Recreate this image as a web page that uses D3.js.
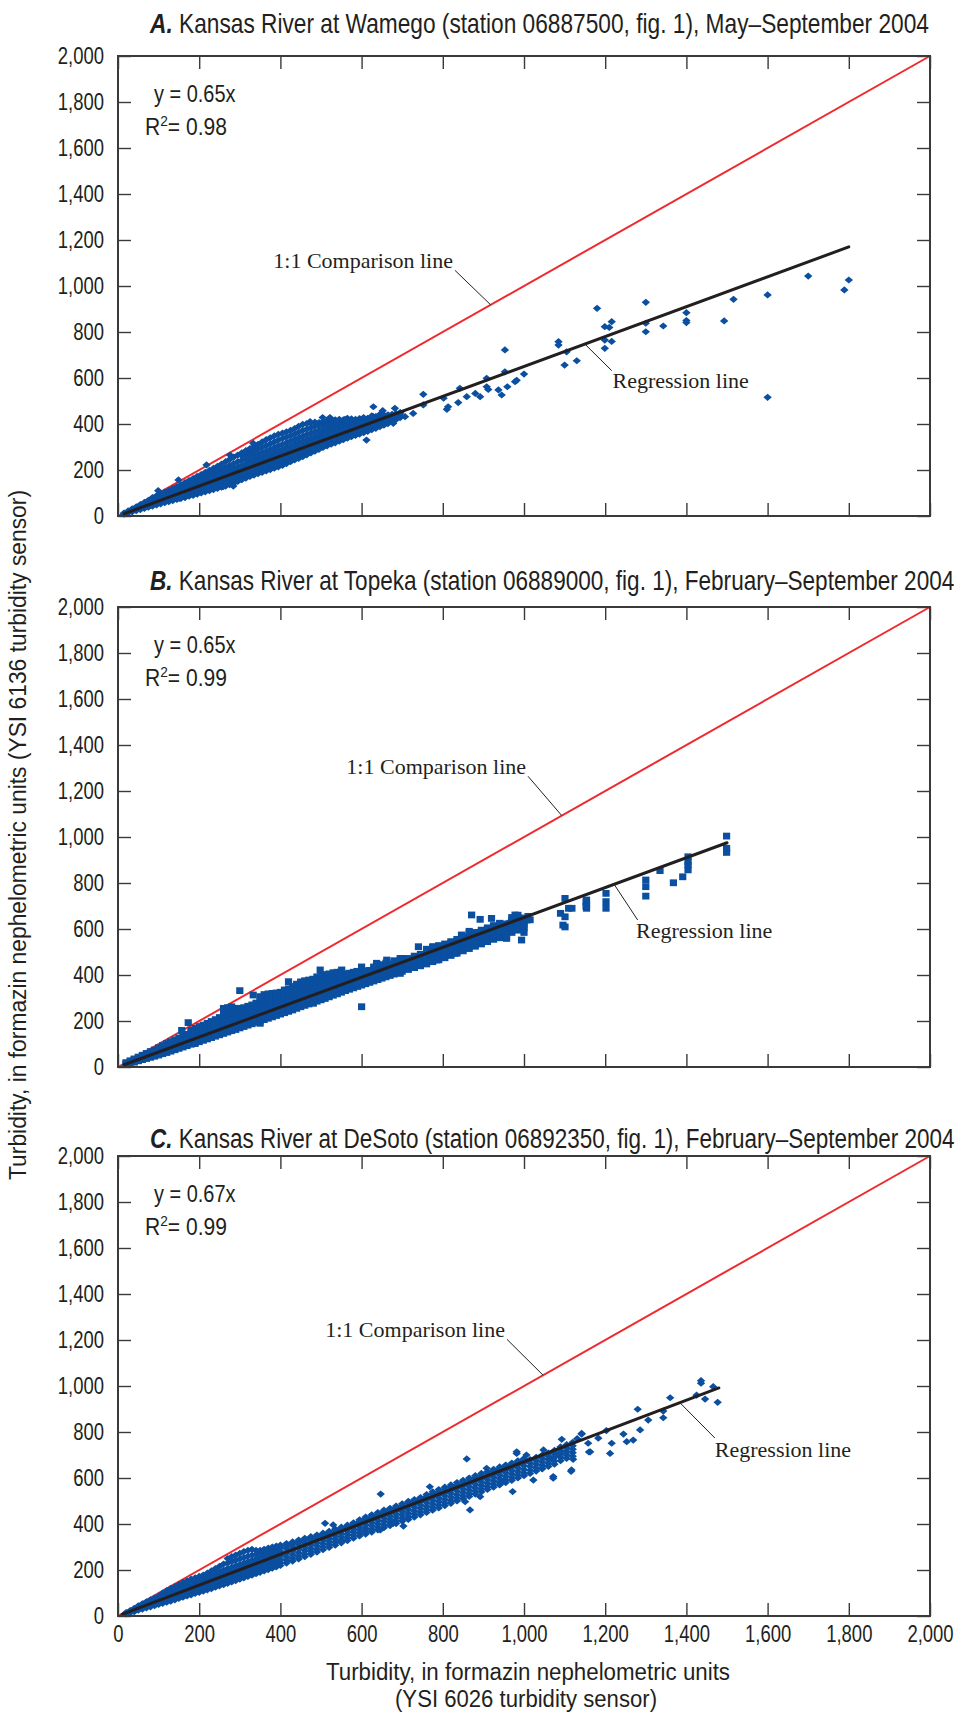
<!DOCTYPE html>
<html>
<head>
<meta charset="utf-8">
<script src="https://cdnjs.cloudflare.com/ajax/libs/d3/7.8.5/d3.min.js"></script>
<style>
  html, body { margin: 0; padding: 0; background: #fff; }
  svg { display: block; }
</style>
</head>
<body>
<svg id="chart" width="961" height="1713"></svg>
<script>
// ---------------------------------------------------------------------------
// Turbidity comparison, YSI 6136 vs YSI 6026 sensors, Kansas River sites 2004
// Dense parts of each cloud are stored as [x, [y, y, ...]] columns,
// isolated readings as plain [x, y] pairs (FNU).
// ---------------------------------------------------------------------------

const axisTicks = [0, 200, 400, 600, 800, 1000, 1200, 1400, 1600, 1800, 2000];

// A. Wamego, May-September 2004
const wamegoBand = [
  [15, [8, 11, 13]], [25, [13, 17, 22]], [35, [18, 22, 27, 31]], [45, [23, 28, 34, 40]],
  [55, [28, 34, 40, 46, 50]], [65, [33, 39, 46, 53, 59]], [75, [38, 45, 52, 60, 68]],
  [85, [43, 50, 58, 66, 74, 80]], [95, [48, 56, 64, 72, 80, 88]], [105, [53, 61, 70, 79, 88, 96]],
  [115, [58, 66, 76, 86, 95, 104]], [125, [62, 71, 81, 92, 102, 112]], [135, [67, 77, 87, 98, 109, 120]],
  [145, [72, 82, 93, 104, 116, 128]], [155, [76, 87, 98, 110, 123, 136]], [165, [80, 92, 104, 117, 130, 145]],
  [175, [86, 98, 110, 123, 137, 154]], [185, [90, 102, 115, 129, 144, 158, 163]],
  [195, [95, 107, 120, 134, 149, 162, 172]], [205, [100, 112, 125, 140, 155, 168, 180]],
  [215, [105, 117, 131, 146, 161, 176, 190]], [225, [110, 122, 136, 151, 167, 183, 198]],
  [235, [115, 128, 142, 157, 173, 190, 207]], [245, [120, 133, 147, 163, 180, 198, 216]],
  [255, [125, 138, 153, 169, 186, 205, 226]], [265, [130, 144, 159, 175, 192, 212, 236]],
  [275, [136, 150, 165, 181, 199, 220, 246]], [285, [142, 156, 171, 188, 206, 228, 256]],
  [295, [150, 163, 178, 195, 213, 236, 265]], [305, [158, 170, 185, 202, 220, 242, 262, 275]],
  [315, [165, 177, 192, 209, 227, 248, 268, 284]], [325, [172, 184, 199, 216, 234, 254, 274, 293]],
  [335, [178, 191, 206, 223, 241, 261, 282, 302]], [345, [184, 198, 213, 230, 248, 268, 290, 312]],
  [355, [190, 204, 220, 237, 255, 275, 298, 322]], [365, [196, 210, 226, 244, 262, 282, 306, 332]],
  [375, [202, 216, 232, 250, 269, 290, 314, 340]], [385, [208, 222, 239, 257, 276, 297, 322, 348]],
  [395, [214, 228, 245, 263, 283, 305, 330, 355]], [405, [220, 235, 252, 270, 290, 312, 337, 360]],
  [415, [228, 242, 259, 277, 297, 319, 343, 366]], [425, [236, 250, 266, 284, 304, 326, 349, 372]],
  [435, [244, 258, 274, 291, 311, 333, 356, 380]], [445, [250, 265, 281, 298, 318, 340, 364, 390]],
  [455, [258, 272, 288, 305, 325, 347, 372, 398]], [465, [266, 280, 295, 312, 332, 354, 378, 402]],
  [475, [274, 288, 303, 320, 339, 361, 384, 405]], [485, [282, 296, 311, 328, 346, 367, 390, 408]],
  [495, [290, 304, 319, 335, 353, 373, 394, 406]], [505, [298, 311, 326, 342, 360, 379, 398, 410]],
  [515, [305, 318, 333, 349, 366, 385, 402, 414]], [525, [312, 325, 340, 356, 373, 391, 408, 420]],
  [535, [318, 332, 347, 363, 380, 398, 418]], [545, [325, 339, 354, 370, 387, 404, 420]],
  [555, [332, 346, 361, 377, 393, 408, 418]], [565, [338, 352, 367, 383, 399, 413, 425]],
  [575, [345, 359, 374, 389, 404, 416, 422]], [585, [350, 364, 379, 394, 408, 420]],
  [595, [356, 370, 385, 400, 413, 424]], [605, [362, 376, 391, 405, 418, 428]],
  [615, [368, 382, 396, 410, 425]], [625, [375, 389, 403, 416, 428, 435]],
  [635, [381, 395, 409, 421, 432]], [645, [388, 401, 414, 427, 438, 442]],
  [655, [395, 408, 421, 432, 440]], [665, [402, 414, 426, 436, 440]],
  [675, [410, 421, 432, 442]], [685, [420, 430, 440, 446]], [695, [428, 438, 448, 450]]
];
const wamegoScatter = [
  [99, 110], [149, 157], [152, 77], [218, 222], [259, 128], [276, 265], [284, 130], [333, 316],
  [473, 410], [504, 428], [522, 428], [559, 420], [612, 330], [629, 475], [629, 432], [652, 458],
  [678, 403], [682, 468], [707, 432], [727, 446], [752, 529], [752, 483], [802, 512], [810, 464],
  [813, 475], [838, 493], [842, 555], [859, 519], [880, 533], [892, 519], [908, 599], [908, 562],
  [912, 550], [937, 548], [945, 526], [953, 627], [959, 562], [953, 722], [978, 584], [982, 590],
  [1000, 617], [1085, 758], [1085, 743], [1100, 656], [1105, 714], [1130, 675], [1180, 903],
  [1199, 823], [1199, 765], [1199, 729], [1210, 820], [1216, 845], [1216, 759], [1300, 929],
  [1300, 838], [1300, 801], [1343, 826], [1400, 884], [1400, 850], [1400, 841], [1493, 848],
  [1516, 942], [1600, 961], [1600, 516], [1700, 1043], [1789, 983], [1800, 1026]
];

// B. Topeka, February-September 2004
const topekaBand = [
  [20, [11, 15, 19]], [30, [16, 21, 27]], [40, [21, 27, 32, 35]], [50, [27, 32, 38, 43]],
  [60, [32, 38, 44, 51]], [70, [37, 43, 50, 56, 59]], [80, [42, 48, 55, 61, 67]],
  [90, [47, 54, 61, 68, 74]], [100, [52, 59, 67, 75, 84]], [110, [58, 65, 73, 82, 93]],
  [120, [63, 71, 80, 90, 102]], [130, [69, 77, 86, 96, 105, 110]], [140, [75, 83, 92, 102, 111, 118]],
  [150, [81, 89, 98, 108, 117, 126]], [160, [87, 95, 104, 114, 124, 134]], [170, [93, 101, 110, 120, 131, 142]],
  [180, [99, 107, 116, 126, 137, 148, 160]], [190, [104, 113, 122, 132, 143, 155, 168]],
  [200, [110, 119, 128, 138, 149, 162, 176]], [210, [116, 125, 134, 144, 155, 168, 182]],
  [220, [122, 131, 141, 151, 162, 175, 190]], [230, [128, 137, 147, 157, 168, 182, 198]],
  [240, [134, 143, 153, 164, 176, 190, 206]], [250, [140, 149, 159, 170, 182, 197, 215]],
  [260, [146, 155, 165, 176, 189, 204, 222, 240, 255]], [270, [152, 161, 171, 182, 195, 210, 228, 245, 258]],
  [280, [158, 167, 177, 188, 201, 216, 234, 250, 262]], [290, [163, 173, 183, 195, 208, 222, 240, 255]],
  [300, [170, 179, 190, 201, 214, 228, 244, 255]], [310, [176, 186, 196, 208, 220, 234, 248, 258]],
  [320, [182, 192, 202, 214, 227, 240, 254, 264]], [330, [188, 198, 209, 220, 233, 246, 260, 270]],
  [340, [194, 204, 215, 227, 240, 253, 266, 278]], [350, [200, 210, 221, 233, 246, 259, 272, 285]],
  [360, [206, 216, 227, 239, 252, 265, 280, 298, 315]], [370, [212, 222, 233, 245, 258, 272, 287, 304, 318]],
  [380, [218, 228, 239, 251, 264, 278, 293, 308, 320]], [390, [224, 234, 245, 257, 270, 284, 299, 312, 322]],
  [400, [230, 240, 251, 263, 276, 290, 304, 316, 325]], [410, [236, 246, 257, 269, 282, 296, 310, 322, 335]],
  [420, [242, 252, 263, 275, 288, 302, 316, 328, 340]], [430, [248, 258, 269, 281, 294, 308, 322, 336, 350]],
  [440, [255, 265, 276, 288, 300, 314, 328, 344, 360]], [450, [262, 272, 283, 294, 306, 320, 334, 350, 370]],
  [460, [268, 278, 289, 300, 312, 326, 340, 356, 375]], [470, [274, 284, 295, 306, 318, 332, 346, 362, 378]],
  [480, [280, 290, 301, 312, 324, 338, 352, 366, 382]], [490, [286, 296, 307, 318, 330, 344, 358, 374, 392]],
  [500, [292, 302, 313, 324, 336, 350, 364, 380, 398]], [510, [298, 308, 319, 330, 342, 356, 370, 386, 402]],
  [520, [305, 315, 325, 336, 348, 362, 376, 392, 405]], [530, [312, 321, 331, 342, 354, 368, 382, 396, 410]],
  [540, [318, 327, 337, 348, 360, 374, 388, 400, 412]], [550, [325, 334, 344, 355, 366, 380, 394, 405, 415]],
  [560, [332, 341, 351, 362, 373, 386, 398, 405]], [570, [338, 347, 357, 368, 379, 392, 402, 408]],
  [580, [344, 353, 363, 374, 385, 397, 406, 412]], [590, [350, 359, 369, 380, 391, 402, 410, 416]],
  [600, [356, 365, 375, 386, 397, 408, 420, 435]], [610, [362, 371, 381, 392, 403, 412, 418]],
  [620, [368, 377, 387, 398, 409, 416, 420]], [630, [374, 383, 393, 404, 415, 425, 435]],
  [640, [380, 389, 399, 410, 421, 431, 440]], [650, [386, 395, 405, 416, 427, 437, 445]],
  [660, [392, 401, 411, 422, 433, 443, 452]], [670, [398, 407, 417, 428, 438, 445]],
  [680, [404, 413, 423, 434, 444, 453, 462]], [690, [410, 419, 429, 440, 450, 458]],
  [700, [416, 425, 435, 446, 456, 465, 472]], [715, [424, 434, 444, 455, 465, 472]],
  [730, [432, 442, 452, 463, 473, 482]], [745, [440, 450, 460, 471, 481, 490]],
  [760, [448, 458, 469, 480, 491, 502, 512]], [775, [458, 468, 479, 490, 501, 512, 522]],
  [790, [466, 476, 487, 498, 509, 519, 528]], [805, [475, 485, 496, 507, 518, 528, 535]],
  [820, [485, 495, 506, 517, 528, 538, 545]], [835, [495, 505, 516, 527, 538, 548, 555]],
  [850, [505, 515, 526, 537, 548, 558, 565]], [865, [515, 525, 536, 547, 558, 569, 580, 590]],
  [880, [525, 535, 546, 557, 568, 578, 585]], [895, [535, 545, 556, 567, 578, 588, 595]],
  [910, [545, 555, 566, 577, 588, 598, 605]], [925, [555, 565, 576, 587, 598, 608, 615]],
  [940, [562, 573, 584, 595, 606, 616, 625]], [955, [572, 583, 594, 605, 615, 622]],
  [970, [585, 596, 607, 618, 630, 640, 650]], [985, [595, 606, 617, 628, 640, 650, 660]],
  [1000, [605, 616, 627, 638, 648]]
];
const topekaScatter = [
  [157, 159], [173, 193], [189, 102], [300, 332], [333, 313], [350, 306], [350, 190], [420, 371],
  [481, 277], [498, 422], [551, 422], [588, 414], [600, 262], [637, 451], [662, 465], [695, 472],
  [695, 407], [728, 465], [740, 523], [777, 523], [785, 465], [830, 494], [846, 574], [871, 661],
  [880, 538], [892, 642], [900, 559], [920, 646], [957, 559], [957, 567], [965, 625], [978, 661],
  [985, 600], [994, 552], [1000, 585], [1007, 639], [1010, 655], [1015, 640], [1090, 668], [1096, 617],
  [1101, 609], [1101, 653], [1101, 733], [1110, 690], [1118, 690], [1154, 726], [1154, 705], [1154, 690],
  [1153, 719], [1153, 698], [1202, 755], [1202, 719], [1202, 690], [1300, 813], [1300, 784], [1300, 743],
  [1335, 854], [1368, 801], [1391, 827], [1404, 857], [1404, 878], [1404, 893], [1404, 914],
  [1499, 1004], [1499, 951], [1499, 933]
];

// C. DeSoto, February-September 2004
const desotoBand = [
  [20, [9, 12, 15]], [30, [14, 19, 24]], [40, [19, 24, 29, 33]], [50, [25, 31, 37, 44]],
  [60, [30, 36, 42, 48, 53]], [70, [35, 41, 48, 55, 62]], [80, [40, 47, 54, 62, 70]],
  [90, [45, 52, 60, 69, 78]], [100, [50, 58, 66, 75, 86]], [110, [55, 63, 72, 81, 90, 100]],
  [120, [60, 68, 78, 88, 99, 110]], [130, [65, 74, 84, 95, 107, 120]], [140, [70, 79, 90, 101, 114, 128]],
  [150, [76, 85, 96, 108, 122, 137]], [160, [82, 91, 102, 115, 130, 146]], [170, [87, 97, 108, 121, 136, 153]],
  [180, [92, 102, 114, 127, 142, 160]], [190, [98, 108, 120, 133, 148, 166]], [200, [103, 114, 126, 139, 154, 172]],
  [210, [108, 119, 132, 145, 160, 178]], [220, [114, 125, 138, 152, 168, 186]], [230, [119, 131, 144, 159, 176, 196]],
  [240, [125, 137, 150, 166, 184, 206]], [250, [131, 143, 157, 173, 192, 216]], [260, [136, 148, 163, 180, 200, 226]],
  [270, [142, 154, 169, 186, 206, 230, 250]], [280, [148, 160, 175, 192, 212, 236, 258]],
  [290, [154, 166, 181, 198, 218, 242, 265]], [300, [160, 172, 187, 204, 224, 248, 272]],
  [310, [166, 178, 193, 210, 230, 254, 280]], [320, [172, 184, 199, 216, 236, 260, 285]],
  [330, [178, 190, 205, 222, 242, 265, 290]], [340, [184, 196, 211, 228, 248, 268, 285]],
  [350, [190, 202, 217, 234, 254, 272, 285]], [360, [196, 208, 223, 240, 260, 278, 290]],
  [370, [202, 214, 229, 246, 265, 283, 295]], [380, [208, 220, 235, 252, 270, 288, 300]],
  [390, [214, 226, 241, 258, 276, 293, 304]], [400, [220, 232, 247, 264, 282, 298, 308]],
  [415, [230, 242, 257, 274, 292, 306, 315]], [430, [239, 251, 266, 283, 300, 314, 322]],
  [445, [248, 260, 275, 292, 309, 322, 330]], [460, [258, 270, 285, 301, 317, 330, 338]],
  [475, [268, 280, 294, 310, 326, 338, 345]], [490, [278, 290, 304, 319, 334, 346, 352]],
  [505, [288, 300, 314, 329, 343, 354, 360]], [520, [298, 310, 324, 338, 352, 362, 368]],
  [535, [308, 320, 334, 348, 362, 372, 378]], [550, [318, 330, 344, 358, 372, 381, 386]],
  [565, [328, 340, 354, 368, 381, 390, 395]], [580, [338, 350, 364, 378, 391, 400, 405]],
  [595, [348, 360, 374, 388, 402, 412, 418]], [610, [356, 368, 382, 397, 412, 423, 430]],
  [625, [365, 377, 392, 407, 422, 433, 440]], [640, [374, 386, 401, 416, 431, 442, 450]],
  [655, [384, 396, 411, 426, 441, 452, 460]], [670, [393, 405, 420, 435, 450, 460, 468]],
  [685, [402, 414, 429, 444, 459, 470, 478]], [700, [412, 424, 439, 454, 469, 480, 488]],
  [715, [420, 432, 447, 463, 479, 490, 498]], [730, [430, 442, 457, 473, 489, 500, 506]],
  [745, [440, 452, 467, 483, 499, 510, 515]], [760, [450, 462, 477, 493, 509, 520, 528]],
  [775, [460, 472, 487, 503, 519, 530, 540]], [790, [470, 482, 497, 513, 529, 540, 550]],
  [805, [480, 492, 507, 523, 539, 550, 560]], [820, [490, 502, 517, 533, 549, 560, 570]],
  [835, [500, 512, 527, 543, 559, 570, 580]], [850, [510, 522, 537, 553, 569, 580, 590]],
  [865, [520, 532, 547, 563, 579, 590, 600]], [880, [530, 542, 557, 573, 589, 600, 610]],
  [895, [540, 552, 567, 583, 599, 610, 620]], [910, [550, 562, 577, 593, 609, 620, 628]],
  [925, [560, 572, 587, 603, 619, 630, 638]], [940, [570, 582, 597, 613, 629, 640, 648]],
  [955, [580, 592, 607, 623, 639, 650, 656]], [970, [590, 602, 617, 633, 649, 660, 665]],
  [985, [600, 612, 627, 643, 659, 670, 675]], [1000, [610, 622, 637, 653, 669, 680, 685]],
  [1015, [620, 634, 650, 665, 680]], [1030, [630, 644, 660, 675, 690]], [1045, [640, 654, 670, 685, 700]],
  [1060, [650, 664, 680, 695, 708]], [1075, [660, 674, 690, 705, 720]], [1090, [675, 690, 705, 720, 735]],
  [1105, [685, 700, 715, 730, 745]], [1120, [695, 710, 725, 740, 755]]
];
const desotoScatter = [
  [510, 403], [530, 396], [551, 323], [646, 374], [647, 530], [678, 403], [703, 391], [768, 562],
  [855, 497], [859, 683], [867, 461], [892, 519], [908, 642], [949, 585], [972, 541], [982, 707],
  [982, 714], [1006, 700], [1023, 591], [1044, 642], [1048, 722], [1068, 683], [1072, 599], [1072, 606],
  [1081, 700], [1089, 709], [1093, 768], [1116, 629], [1117, 635], [1121, 681], [1131, 771], [1142, 791],
  [1142, 794], [1158, 751], [1160, 713], [1163, 714], [1183, 773], [1203, 806], [1212, 707], [1216, 751],
  [1245, 791], [1253, 758], [1269, 765], [1280, 899], [1286, 809], [1306, 852], [1343, 862], [1343, 891],
  [1360, 949], [1425, 960], [1436, 1012], [1436, 1023], [1446, 943], [1466, 997], [1477, 929]
];

// Regression results per site
const slopes = [0.65, 0.65, 0.67];
const rSquared = ["0.98", "0.99", "0.99"];
const fitRanges = [[15, 1800], [15, 1500], [10, 1480]];

const titles = [
  "Kansas River at Wamego (station 06887500, fig. 1), May\u2013September 2004",
  "Kansas River at Topeka (station 06889000, fig. 1), February\u2013September 2004",
  "Kansas River at DeSoto (station 06892350, fig. 1), February\u2013September 2004"
];
const letters = ["A.", "B.", "C."];

// ---------------------------------------------------------------------------
const expand = (band, scatter) =>
  band.flatMap(([x, ys]) => ys.map(v => [x, v])).concat(scatter);

const panels = [
  { band: wamegoBand, scatter: wamegoScatter, marker: "diamond", top: 56, titleY: 33, titleLen: 780,
    cmpText: [825, 1078], cmpLead: [[830, 1068], 918],
    regText: [1218, 557], regLead: [[1216, 632], 1150] },
  { band: topekaBand, scatter: topekaScatter, marker: "square", top: 607, titleY: 590, titleLen: 805,
    cmpText: [1005, 1274], cmpLead: [[1010, 1264], 1093],
    regText: [1276, 561], regLead: [[1280, 639], 1222] },
  { band: desotoBand, scatter: desotoScatter, marker: "diamond", top: 1156, titleY: 1148, titleLen: 805,
    cmpText: [953, 1213], cmpLead: [[958, 1203], 1047],
    regText: [1470, 691], regLead: [[1470, 774], 1384] }
];

const left = 118, right = 930, plotH = 460;
const blue = "#0a4fa0", red = "#ee2a2e", ink = "#231f20", frameColor = "#3a3a3a";
const sans = "'Liberation Sans', Arial, sans-serif";
const serif = "'Liberation Serif', 'Times New Roman', serif";
const tickSqueeze = 0.77;

const svg = d3.select("#chart");
const fmt = d3.format(",");

const markerPath = {
  diamond: "M0,-3.6L4.2,0L0,3.6L-4.2,0Z",
  square: "M-3.6,-3.4H3.6V3.4H-3.6Z"
};

// Condensed type: a text set at (x, y) and squeezed horizontally to a given width
function condensedText(parent, x, y, size, width) {
  const gText = parent.append("g").attr("transform", `translate(${x},${y})`);
  const t = gText.append("text").attr("font-family", sans).attr("font-size", size).attr("fill", ink);
  return {
    text: t,
    fit() {
      const w = t.node().getBBox().width;
      gText.attr("transform", `translate(${x},${y}) scale(${width / w},1)`);
    }
  };
}

panels.forEach((p, i) => {
  const x = d3.scaleLinear().domain([0, 2000]).range([left, right]);
  const y = d3.scaleLinear().domain([0, 2000]).range([p.top + plotH, p.top]);
  const g = svg.append("g");

  // Panel title
  const title = condensedText(g, 150, p.titleY, 28, p.titleLen);
  title.text.append("tspan").attr("font-weight", "bold").attr("font-style", "italic").text(letters[i]);
  title.text.append("tspan").text(" " + titles[i]);
  title.fit();

  // Axes: ticks point into the plot on all four sides
  const yAxisG = g.append("g").attr("transform", `translate(${left},0)`)
    .call(d3.axisLeft(y).tickValues(axisTicks).tickSize(-13).tickPadding(14).tickFormat(fmt));
  g.append("g").attr("transform", `translate(${right},0)`)
    .call(d3.axisRight(y).tickValues(axisTicks).tickSize(-13).tickFormat(""));
  g.append("g").attr("transform", `translate(0,${p.top})`)
    .call(d3.axisTop(x).tickValues(axisTicks).tickSize(-13).tickFormat(""));
  const xAxisG = g.append("g").attr("transform", `translate(0,${p.top + plotH})`)
    .call(d3.axisBottom(x).tickValues(axisTicks).tickSize(-13).tickPadding(9)
      .tickFormat(i === 2 ? fmt : ""));

  g.selectAll(".domain").remove();
  g.selectAll(".tick line").attr("stroke", frameColor).attr("stroke-width", 1.4);
  g.selectAll(".tick text").attr("font-family", sans).attr("font-size", 24).attr("fill", ink);

  // Narrow tick numerals: horizontal squeeze about each label's anchor
  yAxisG.selectAll(".tick text").each(function () {
    const t = d3.select(this);
    t.attr("x", +t.attr("x") / tickSqueeze).attr("transform", `scale(${tickSqueeze},1)`);
  });
  xAxisG.selectAll(".tick text").attr("transform", `scale(${tickSqueeze},1)`);

  // 1:1 comparison line
  g.append("line")
    .attr("x1", x(0)).attr("y1", y(0)).attr("x2", x(2000)).attr("y2", y(2000))
    .attr("stroke", red).attr("stroke-width", 2);

  // Observations
  g.append("g").selectAll("path")
    .data(expand(p.band, p.scatter))
    .join("path")
    .attr("d", markerPath[p.marker])
    .attr("transform", d => `translate(${x(d[0])},${y(d[1])})`)
    .attr("fill", blue);

  // Regression line through the origin
  const [f0, f1] = fitRanges[i];
  g.append("line")
    .attr("x1", x(f0)).attr("y1", y(slopes[i] * f0))
    .attr("x2", x(f1)).attr("y2", y(slopes[i] * f1))
    .attr("stroke", ink).attr("stroke-width", 3).attr("stroke-linecap", "round");

  // Frame
  g.append("rect")
    .attr("x", left).attr("y", p.top).attr("width", right - left).attr("height", plotH)
    .attr("fill", "none").attr("stroke", frameColor).attr("stroke-width", 2);

  // Equation and coefficient of determination
  const eq = condensedText(g, 154, p.top + 46, 23, 82);
  eq.text.text(`y = ${slopes[i].toFixed(2)}x`);
  eq.fit();
  const r2 = condensedText(g, 145, p.top + 79, 23, 82);
  r2.text.append("tspan").text("R");
  r2.text.append("tspan").attr("font-size", 15).attr("dy", -9).text("2");
  r2.text.append("tspan").attr("dy", 9).text("= " + rSquared[i]);
  r2.fit();

  // Line labels with leaders
  g.append("text").attr("x", x(p.cmpText[0])).attr("y", y(p.cmpText[1]))
    .attr("text-anchor", "end").attr("font-family", serif).attr("font-size", 22).attr("fill", ink)
    .text("1:1 Comparison line");
  g.append("line")
    .attr("x1", x(p.cmpLead[0][0])).attr("y1", y(p.cmpLead[0][1]))
    .attr("x2", x(p.cmpLead[1])).attr("y2", y(p.cmpLead[1]))
    .attr("stroke", ink).attr("stroke-width", 1);

  g.append("text").attr("x", x(p.regText[0])).attr("y", y(p.regText[1]))
    .attr("font-family", serif).attr("font-size", 22).attr("fill", ink)
    .text("Regression line");
  g.append("line")
    .attr("x1", x(p.regLead[0][0])).attr("y1", y(p.regLead[0][1]))
    .attr("x2", x(p.regLead[1])).attr("y2", y(slopes[i] * p.regLead[1]))
    .attr("stroke", ink).attr("stroke-width", 1);
});

// Shared axis titles
svg.append("text")
  .attr("transform", "translate(26,835) rotate(-90)")
  .attr("text-anchor", "middle")
  .attr("font-family", sans).attr("font-size", 23).attr("fill", ink)
  .attr("textLength", 690).attr("lengthAdjust", "spacingAndGlyphs")
  .text("Turbidity, in formazin nephelometric units (YSI 6136 turbidity sensor)");

svg.append("text")
  .attr("x", 528).attr("y", 1680).attr("text-anchor", "middle")
  .attr("font-family", sans).attr("font-size", 23).attr("fill", ink)
  .attr("textLength", 404).attr("lengthAdjust", "spacingAndGlyphs")
  .text("Turbidity, in formazin nephelometric units");
svg.append("text")
  .attr("x", 526).attr("y", 1707).attr("text-anchor", "middle")
  .attr("font-family", sans).attr("font-size", 23).attr("fill", ink)
  .attr("textLength", 262).attr("lengthAdjust", "spacingAndGlyphs")
  .text("(YSI 6026 turbidity sensor)");
</script>
</body>
</html>
